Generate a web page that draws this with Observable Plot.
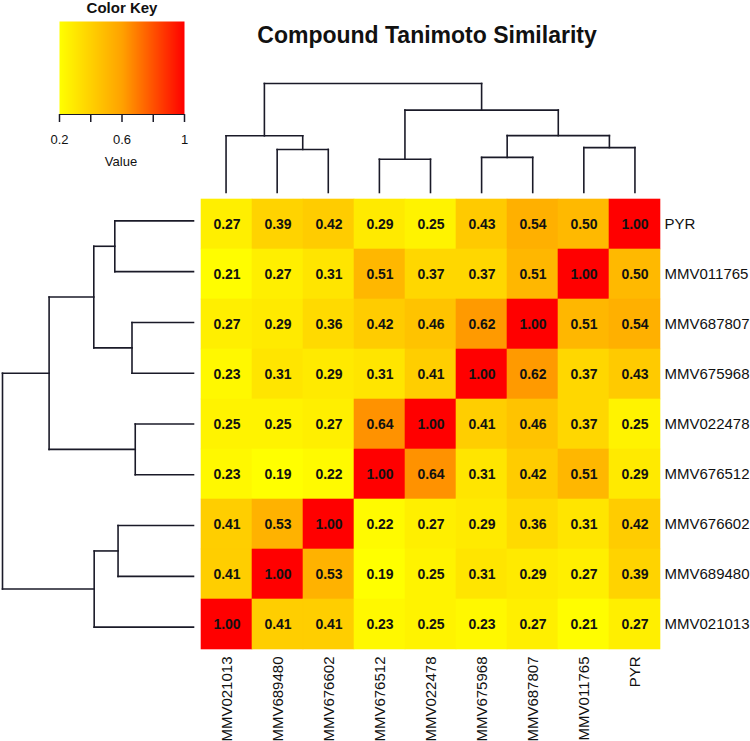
<!DOCTYPE html>
<html>
<head>
<meta charset="utf-8">
<script src="https://cdn.jsdelivr.net/npm/d3@7"></script>
<script src="https://cdn.jsdelivr.net/npm/@observablehq/plot@0.6"></script>
<style>
  html, body { margin: 0; padding: 0; background: #fff; }
  #chart { position: relative; width: 750px; height: 741px; overflow: hidden; background: #fff;
           font-family: "Liberation Sans", Arial, sans-serif; color: #111; }
  #chart > * { position: absolute; }
  .lbl { text-align: center; line-height: 1.2; white-space: nowrap; }
</style>
</head>
<body>
<div id="chart"></div>
<script>
// ---------------- data ----------------
const titleText = "Compound Tanimoto Similarity";
const keyTitle = "Color Key";
const keyLabel = "Value";

// column order (left -> right) and row order (top -> bottom)
const cols = ["MMV021013","MMV689480","MMV676602","MMV676512","MMV022478","MMV675968","MMV687807","MMV011765","PYR"];
const rows = ["PYR","MMV011765","MMV687807","MMV675968","MMV022478","MMV676512","MMV676602","MMV689480","MMV021013"];

// similarity values, one array per row (columns in `cols` order)
const valPYR       = [0.27, 0.39, 0.42, 0.29, 0.25, 0.43, 0.54, 0.50, 1.00];
const valMMV011765 = [0.21, 0.27, 0.31, 0.51, 0.37, 0.37, 0.51, 1.00, 0.50];
const valMMV687807 = [0.27, 0.29, 0.36, 0.42, 0.46, 0.62, 1.00, 0.51, 0.54];
const valMMV675968 = [0.23, 0.31, 0.29, 0.31, 0.41, 1.00, 0.62, 0.37, 0.43];
const valMMV022478 = [0.25, 0.25, 0.27, 0.64, 1.00, 0.41, 0.46, 0.37, 0.25];
const valMMV676512 = [0.23, 0.19, 0.22, 1.00, 0.64, 0.31, 0.42, 0.51, 0.29];
const valMMV676602 = [0.41, 0.53, 1.00, 0.22, 0.27, 0.29, 0.36, 0.31, 0.42];
const valMMV689480 = [0.41, 1.00, 0.53, 0.19, 0.25, 0.31, 0.29, 0.27, 0.39];
const valMMV021013 = [1.00, 0.41, 0.41, 0.23, 0.25, 0.23, 0.27, 0.21, 0.27];
const rowValues = [valPYR, valMMV011765, valMMV687807, valMMV675968, valMMV022478,
                   valMMV676512, valMMV676602, valMMV689480, valMMV021013];

// hierarchical clustering (hclust-style merges): a leaf name, or a 1-based earlier merge number
const mergeA      = ["MMV676512", "MMV675968", "MMV689480", "MMV011765", "MMV021013", 2, 1, 5];
const mergeB      = ["MMV022478", "MMV687807", "MMV676602", "PYR",       3,           4, 6, 7];
const mergeHeight = [0.305,       0.322,       0.395,       0.412,       0.52,        0.522, 0.756, 1.0];

// colour key
const colorDomain = [0.2, 0.6, 1];
const colorRange  = ["#ffff00", "#ffa200", "#ff0000"];
const keyTicks      = [0.2, 0.4, 0.6, 0.8, 1];
const keyTickLabels = ["0.2", "", "0.6", "", "1"];

// ---------------- build ----------------
const FONT = '"Liberation Sans", Arial, sans-serif';
const LINE = "#1a1a28";
const chart = document.getElementById("chart");
const colorScale = {type: "linear", domain: colorDomain, range: colorRange, interpolate: "rgb"};

function place(el, left, top) { el.style.left = left + "px"; el.style.top = top + "px"; chart.appendChild(el); return el; }
function label(text, left, top, width, size, weight) {
  const d = document.createElement("div");
  d.className = "lbl"; d.textContent = text;
  d.style.width = width + "px"; d.style.fontSize = size + "px"; d.style.fontWeight = weight;
  return place(d, left, top);
}

// table for heatmap
const cells = [];
rows.forEach((r, i) => cols.forEach((c, j) => cells.push({row: r, col: c, value: rowValues[i][j]})));

// dendrogram segments given a leaf order
function dendroSegments(order) {
  const pos = new Map(order.map((n, i) => [n, i]));
  const nodes = [];
  const get = (k) => typeof k === "number" ? nodes[k - 1] : {p: pos.get(k), h: 0};
  const segs = [];
  mergeA.forEach((a, i) => {
    const A = get(a), B = get(mergeB[i]), h = mergeHeight[i];
    segs.push({p1: A.p, h1: A.h, p2: A.p, h2: h});
    segs.push({p1: A.p, h1: h,   p2: B.p, h2: h});
    segs.push({p1: B.p, h1: B.h, p2: B.p, h2: h});
    nodes.push({p: (A.p + B.p) / 2, h});
  });
  return segs;
}

// ---- heatmap ----
const heat = Plot.plot({
  width: 550, height: 546,
  marginLeft: 0, marginTop: 0, marginRight: 90, marginBottom: 89,
  style: {background: "transparent", fontFamily: FONT, color: "#111"},
  x: {type: "band", domain: cols, padding: 0},
  y: {type: "band", domain: rows, padding: 0},
  color: colorScale,
  marks: [
    Plot.cell(cells, {x: "col", y: "row", fill: "value", stroke: "value", strokeWidth: 0.6, inset: 0}),
    Plot.text(cells, {x: "col", y: "row", text: d => d.value.toFixed(2), fontSize: 14, fontWeight: "bold", fill: "#111"}),
    Plot.axisY({anchor: "right", tickSize: 0, tickPadding: 4, fontSize: 15, label: null}),
    Plot.axisX({anchor: "bottom", tickSize: 0, tickPadding: 4, tickRotate: -90, fontSize: 15, label: null})
  ]
});
place(heat, 200, 195);

// ---- column dendrogram (top) ----
const colSegs = dendroSegments(cols);
const colDendro = Plot.plot({
  width: 460, height: 125,
  marginLeft: 0, marginRight: 0, marginTop: 13, marginBottom: 3,
  style: {background: "transparent"},
  x: {domain: [-0.5, cols.length - 0.5], axis: null},
  y: {domain: [0, 1], axis: null},
  marks: [
    Plot.link(colSegs, {x1: "p1", y1: "h1", x2: "p2", y2: "h2", stroke: LINE, strokeWidth: 1.6, strokeLinecap: "square"})
  ]
});
place(colDendro, 200, 70);

// ---- row dendrogram (left) ----
const rowSegs = dendroSegments(rows);
const rowDendro = Plot.plot({
  width: 200, height: 457,
  marginLeft: 2, marginRight: 7, marginTop: 0, marginBottom: 0,
  style: {background: "transparent"},
  x: {domain: [1, 0], axis: null},
  y: {domain: [-0.5, rows.length - 0.5], reverse: true, axis: null},
  marks: [
    Plot.link(rowSegs, {x1: "h1", y1: "p1", x2: "h2", y2: "p2", stroke: LINE, strokeWidth: 1.6, strokeLinecap: "square"})
  ]
});
place(rowDendro, 0, 195);

// ---- colour key ----
const key = Plot.plot({
  width: 205, height: 152,
  marginLeft: 59, marginRight: 21, marginTop: 21, marginBottom: 38,
  style: {background: "transparent", fontFamily: FONT, color: "#111"},
  x: {domain: [colorDomain[0], colorDomain[colorDomain.length - 1]]},
  y: {domain: [0, 1], axis: null},
  color: colorScale,
  marks: [
    Plot.raster({fill: (x, y) => x, x1: colorDomain[0], x2: colorDomain[colorDomain.length - 1], y1: 0, y2: 1, width: 250, height: 2}),
    Plot.ruleY([0], {stroke: LINE, strokeWidth: 1.2}),
    Plot.axisX({ticks: keyTicks, tickFormat: (d, i) => keyTickLabels[i], tickSize: 8, tickPadding: 12,
                fontSize: 13, label: null, strokeWidth: 1.5, stroke: LINE})
  ]
});
place(key, 0, 0);

label(keyTitle, 72, -1, 100, 15, "bold");
label(keyLabel, 81, 154, 80, 13, "normal");
label(titleText, 177, 22, 500, 23, "bold");
</script>
</body>
</html>
